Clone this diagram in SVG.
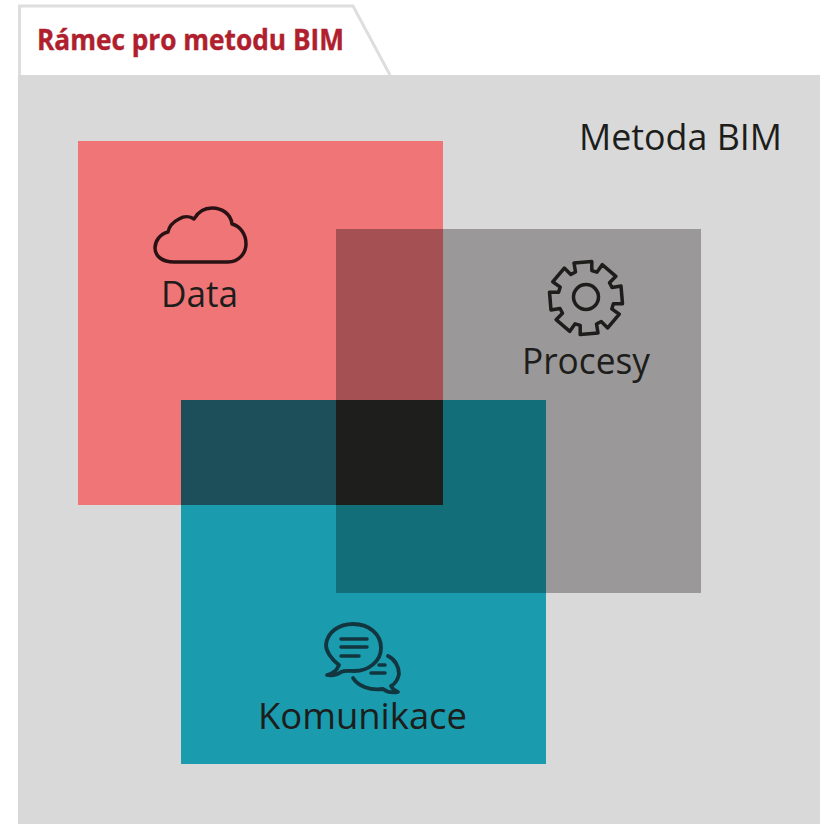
<svg xmlns="http://www.w3.org/2000/svg" width="820" height="824" viewBox="0 0 820 824">
<style>
.l{font-family:"Open Sans","Noto Sans","Liberation Sans",sans-serif;font-size:37px;fill:#1d1d1b}
.i{fill:none;stroke-linecap:round;stroke-linejoin:round}
</style>
<rect width="820" height="824" fill="#ffffff"/>
<rect id="frame" x="18" y="75" width="802" height="749" fill="#d9d9d9"/>
<g id="tab">
<path d="M19.500 75V6H353L390 75" fill="#ffffff" stroke="#dedede" stroke-width="3"/>
<text x="37" y="50" font-family="'Open Sans','Liberation Sans',sans-serif" font-size="28" font-weight="700" fill="#b01f2e" stroke="#b01f2e" stroke-width="0.400" textLength="307" lengthAdjust="spacingAndGlyphs">Rámec pro metodu BIM</text>
</g>
<text id="title" class="l" x="579" y="150" textLength="203" lengthAdjust="spacingAndGlyphs">Metoda BIM</text>
<g id="squares">
<rect x="78" y="141" width="365" height="364" fill="#ef7577"/>
<rect x="336" y="229" width="365" height="364" fill="#9a9899"/>
<rect x="181" y="400" width="365" height="364" fill="#1a9bae"/>
<rect x="336" y="229" width="107" height="171" fill="#a55052"/>
<rect x="181" y="400" width="155" height="105" fill="#1d4f5b"/>
<rect x="443" y="400" width="103" height="193" fill="#126e79"/>
<rect x="336" y="505" width="107" height="88" fill="#126e79"/>
<rect x="336" y="400" width="107" height="105" fill="#1e1e1c"/>
</g>
<g id="data">
<path class="i" d="M174 262H228C239 262 246 253 246 244C246 234 240 226 232 224C231 214 222 208 212 208C204 208 198 212 194 219C190 216 184 216 179 219C173 222 169 227 168 232C160 234 155 241 155 248C155 256 162 262 174 262Z" stroke="#2a1214" stroke-width="3.500"/>
<text class="l" x="161" y="307" textLength="77" lengthAdjust="spacingAndGlyphs" fill="#2a1214">Data</text>
</g>
<g id="procesy">
<path class="i" d="M575.500 272L574 263L591.800 261.500L591.800 270.600L596.900 272.200L602.200 264.700L615.900 276.300L609.500 282.800L612 287.500L621 286L622.500 303.800L613.400 303.800L611.800 308.900L619.300 314.200L607.700 327.900L601.200 321.500L596.500 324L598 333L580.200 334.500L580.200 325.400L575.100 323.800L569.800 331.300L556.100 319.700L562.500 313.200L560 308.500L551 310L549.500 292.200L558.600 292.200L560.200 287.100L552.700 281.800L564.300 268.100L570.800 274.500Z" stroke="#1d1d1b" stroke-width="3.500"/>
<circle cx="586" cy="297" r="12.500" class="i" stroke="#1d1d1b" stroke-width="3.500"/>
<text class="l" x="522" y="374" textLength="128" lengthAdjust="spacingAndGlyphs">Procesy</text>
</g>
<g id="komunikace">
<path class="i" d="M327 675C333 674 337 670 339 665C331 659 326 651 326 645C327 632 339 624 353 624C369 624 381 634 381 648C381 661 369 671 354 671C349 671 345 670 341 672C337 675 332 676 327 675Z" stroke="#12363f" stroke-width="3.800"/>
<path class="i" d="M341 639H367M341 647H367M341 656H359" stroke="#12363f" stroke-width="3.500"/>
<path class="i" d="M388 656C395 659 399 667 399 674C398 679 395 684 391 686C392 688 395 691 398 692C393 693 387 692 383 689C370 691 358 686 353 678" stroke="#12363f" stroke-width="3.800"/>
<path class="i" d="M379 665H385M371 673H385" stroke="#12363f" stroke-width="3.500"/>
<text class="l" x="258" y="729" textLength="209" lengthAdjust="spacingAndGlyphs" fill="#12363f">Komunikace</text>
</g>
</svg>
